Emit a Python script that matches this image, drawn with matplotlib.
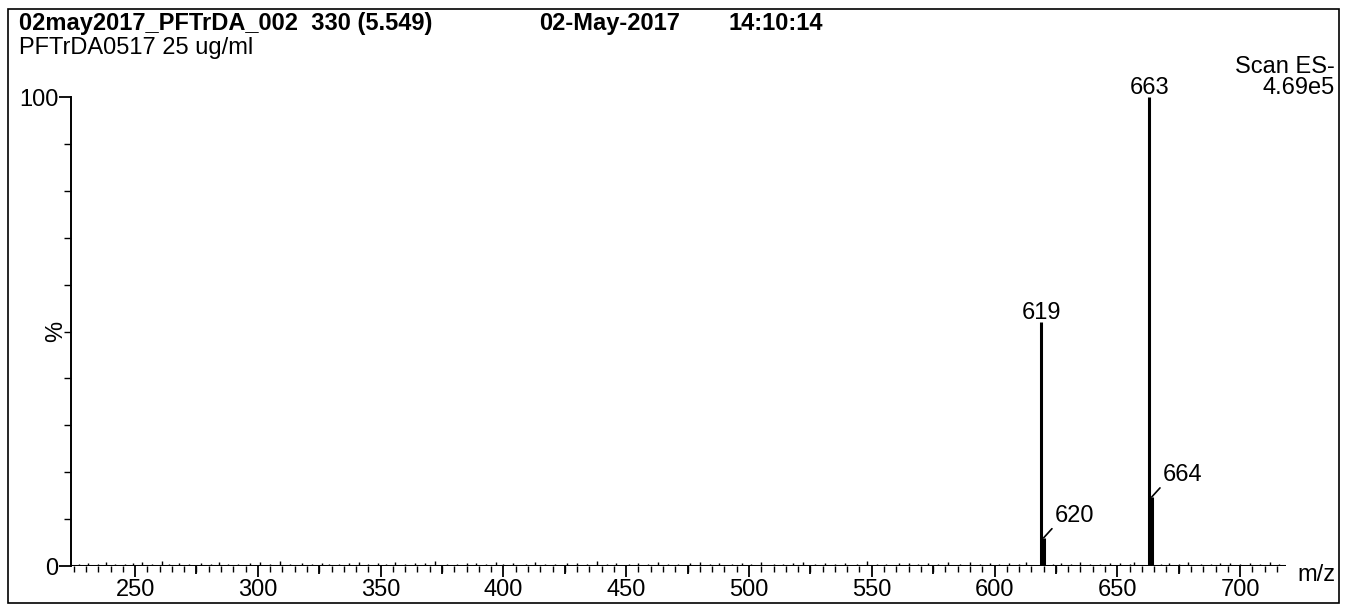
import matplotlib
matplotlib.use("Agg")
import matplotlib.pyplot as plt
from matplotlib.ticker import MultipleLocator, FixedLocator
from matplotlib.patches import Rectangle

plt.rcParams['font.family'] = ['Liberation Sans', 'DejaVu Sans']

# spectrum peaks (m/z, relative intensity %)
peak_mz = [619, 620, 663, 664]
peak_int = [52.0, 6.0, 100.0, 14.7]
peak_labels = ['619', '620', '663', '664']

# baseline noise (m/z, %)
noise_mz = [227, 231, 235, 238, 242, 246, 249, 253, 257, 261, 264, 268, 272, 277,
            281, 284, 288, 292, 297, 301, 305, 309, 313, 318, 322, 326, 329, 333,
            337, 341, 345, 349, 352, 356, 360, 364, 368, 372, 377, 381, 385, 389,
            393, 397, 400, 404, 409, 413, 417, 421, 426, 430, 434, 438, 442, 446,
            451, 455, 459, 463, 467, 471, 476, 480, 484, 488, 493, 497, 501, 505,
            510, 514, 518, 522, 527, 531, 535, 539, 544, 548, 552, 556, 561, 565,
            569, 573, 577, 581, 586, 590, 594, 598, 602, 606, 610, 613, 624, 627,
            631, 635, 639, 643, 647, 651, 655, 657, 668, 671, 675, 679, 684, 688,
            692, 696, 700, 704, 708, 712, 716]
noise_int = [0.5, 0.6, 0.4, 0.9, 0.5, 0.5, 0.7, 0.8, 0.4, 1.0, 0.5, 0.6, 0.4, 0.7,
             0.5, 0.9, 0.4, 0.5, 0.6, 0.8, 0.5, 1.1, 0.4, 0.6, 0.5, 0.7, 0.4, 0.5,
             0.6, 0.9, 0.4, 0.6, 0.5, 0.8, 0.4, 0.7, 0.6, 1.0, 0.4, 0.5, 0.6, 0.6,
             0.5, 0.9, 0.4, 0.7, 0.5, 0.8, 0.4, 0.5, 0.6, 0.6, 0.4, 1.0, 0.5, 0.7,
             0.4, 0.6, 0.5, 0.9, 0.4, 0.5, 0.6, 0.8, 0.4, 0.7, 0.5, 0.6, 0.4, 0.9,
             0.5, 0.5, 0.6, 0.8, 0.4, 0.6, 0.5, 0.7, 0.4, 1.0, 0.5, 0.5, 0.6, 0.7,
             0.4, 0.6, 0.5, 0.8, 0.4, 0.9, 0.5, 0.6, 0.4, 0.7, 0.5, 0.8, 0.5, 0.6,
             0.4, 0.9, 0.5, 0.5, 0.6, 0.7, 0.4, 0.8, 0.5, 0.6, 0.4, 0.9, 0.5, 0.5,
             0.6, 0.7, 0.4, 0.6, 0.5, 0.8, 0.4]

x_min, x_max = 223.9, 718.7

fig = plt.figure(figsize=(13.47, 6.09), dpi=100)
fig.patches.append(Rectangle((0.006, 0.01), 0.988, 0.975, transform=fig.transFigure,
                             fill=False, edgecolor='black', linewidth=1.2))

ax = fig.add_axes([0.0527, 0.0706, 0.902, 0.770])
ax.set_xlim(x_min, x_max)
ax.set_ylim(0, 100)

ax.vlines(noise_mz, 0, noise_int, color='black', linewidth=1.0)
ax.axhline(0, color='black', linewidth=2.2)
ax.vlines(peak_mz, 0, peak_int, color='black', linewidth=2.2)

fs = 17
for mz, val, lab in zip(peak_mz, peak_int, peak_labels):
    if lab in ('619', '663'):
        ax.annotate(lab, xy=(mz, val), xytext=(0, -1.5), textcoords='offset points',
                    ha='center', va='bottom', fontsize=fs)
    else:
        ax.annotate(lab, xy=(mz, val), xytext=(8, 8), textcoords='offset points',
                    ha='left', va='bottom', fontsize=fs,
                    arrowprops=dict(arrowstyle='-', color='black', linewidth=1.2,
                                    shrinkA=0, shrinkB=0, relpos=(0.05, 0.15)))

for s in ('top', 'right', 'bottom'):
    ax.spines[s].set_visible(False)
ax.spines['left'].set_linewidth(1.4)

ax.xaxis.set_major_locator(MultipleLocator(50))
ax.xaxis.set_minor_locator(MultipleLocator(5))
ax.tick_params(axis='x', which='major', length=8, width=1.3, labelsize=fs, pad=1)
ax.tick_params(axis='x', which='minor', length=4, width=1.0)
# 25-unit ticks are as long as the labelled ones
ax.vlines([275, 325, 375, 425, 475, 525, 575, 625, 675], 0, -1.7,
          color='black', linewidth=1.3, clip_on=False)
ax.yaxis.set_major_locator(FixedLocator([0, 100]))
ax.yaxis.set_minor_locator(MultipleLocator(10))
ax.tick_params(axis='y', which='major', length=9, width=1.3, labelsize=fs, pad=0)
ax.tick_params(axis='y', which='minor', length=5, width=1.0)
ax.set_ylabel('%', fontsize=fs)
ax.yaxis.set_label_coords(-0.003, 0.5)

fig.text(0.977, 0.056, 'm/z', fontsize=fs, ha='center', va='center')

# header
fig.text(0.014, 0.961, '02may2017_PFTrDA_002  330 (5.549)', fontsize=fs,
         fontweight='bold', va='center', ha='left')
fig.text(0.400, 0.961, '02-May-2017', fontsize=fs, fontweight='bold', va='center')
fig.text(0.541, 0.961, '14:10:14', fontsize=fs, fontweight='bold', va='center')
fig.text(0.014, 0.921, 'PFTrDA0517 25 ug/ml', fontsize=fs, va='center')
fig.text(0.991, 0.890, 'Scan ES-', fontsize=fs, ha='right', va='center')
fig.text(0.991, 0.855, '4.69e5', fontsize=fs, ha='right', va='center')

fig.savefig('out.png', dpi=100)
